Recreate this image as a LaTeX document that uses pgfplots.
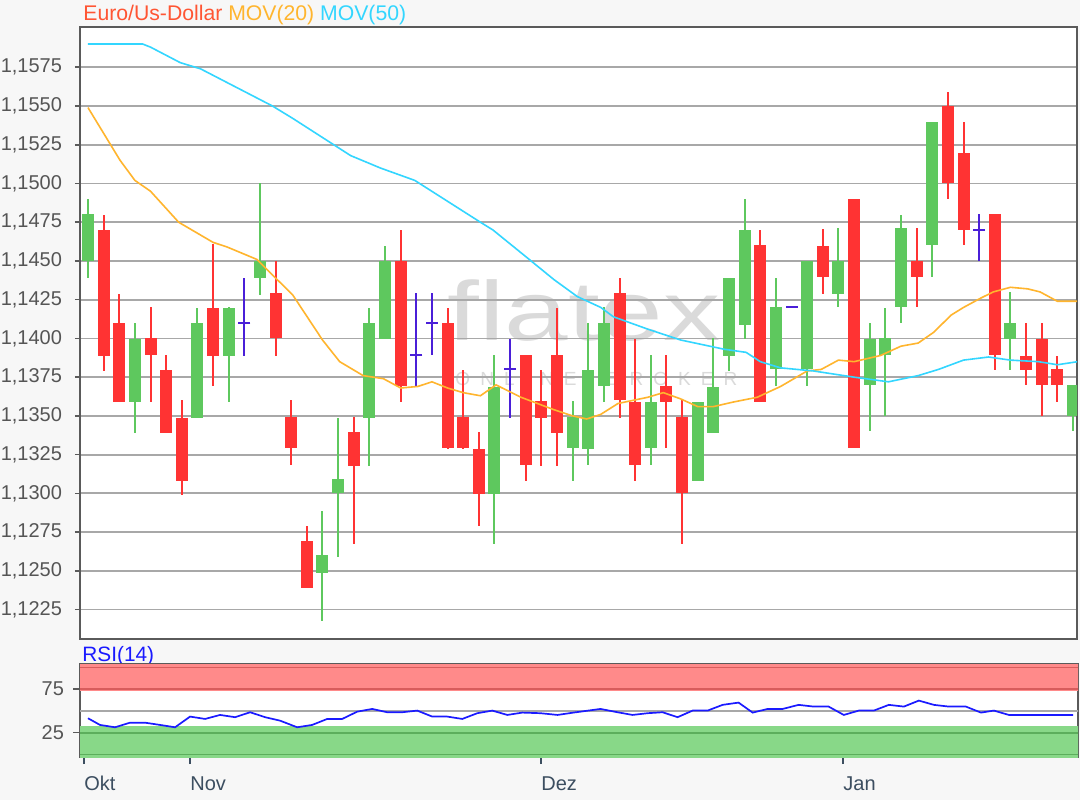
\documentclass[border=0pt]{standalone}
\usepackage{fontspec}
\setmainfont{Liberation Sans}
\usepackage{pgfplots}
\usepackage{pgfplotstable}
\pgfplotsset{compat=1.18}
\definecolor{bg}{HTML}{F7F7F7}
\definecolor{framec}{HTML}{5A5A5A}
\definecolor{gridc}{HTML}{A8A8A8}
\definecolor{cgreen}{HTML}{5EC85E}
\definecolor{cred}{HTML}{FF3333}
\definecolor{cblue}{HTML}{4A1FD8}
\definecolor{corange}{HTML}{FFB52E}
\definecolor{ccyan}{HTML}{33D6FF}
\definecolor{ticklab}{HTML}{555555}
\definecolor{xlab}{HTML}{3C4E60}
\definecolor{ttlred}{HTML}{FF5533}
\definecolor{rsiblue}{HTML}{1A1AFF}
\definecolor{bandred}{HTML}{FF8A8A}
\definecolor{bandredd}{HTML}{D85C5C}
\definecolor{bandgreen}{HTML}{88D888}
\definecolor{bandgreend}{HTML}{5CAE5C}
\definecolor{wm}{HTML}{DADADA}

% green candles: index open high low close
\pgfplotstableread{
i o h l c
0 1.1450 1.1490 1.1439 1.1480
3 1.1359 1.1410 1.1339 1.1400
7 1.1349 1.1420 1.1349 1.1410
9 1.1389 1.1420 1.1359 1.1420
11 1.1439 1.1500 1.1428 1.1450
15 1.1249 1.1289 1.1218 1.1260
16 1.1300 1.1349 1.1259 1.1309
18 1.1349 1.1420 1.1318 1.1410
19 1.1400 1.1460 1.1400 1.1450
26 1.1300 1.1389 1.1267 1.1369
31 1.1329 1.1360 1.1308 1.1349
32 1.1329 1.1410 1.1318 1.1380
33 1.1369 1.1420 1.1359 1.1410
36 1.1329 1.1389 1.1318 1.1359
39 1.1308 1.1359 1.1308 1.1359
40 1.1339 1.1400 1.1339 1.1369
41 1.1389 1.1439 1.1379 1.1439
42 1.1409 1.1490 1.1400 1.1470
44 1.1380 1.1439 1.1369 1.1420
46 1.1380 1.1450 1.1369 1.1450
48 1.1429 1.1471 1.1420 1.1450
50 1.1370 1.1410 1.1340 1.1400
51 1.1389 1.1420 1.1350 1.1400
52 1.1420 1.1480 1.1410 1.1471
54 1.1460 1.1540 1.1440 1.1540
59 1.1400 1.1430 1.1380 1.1410
63 1.1350 1.1370 1.1340 1.1370
}\greendata

% red candles
\pgfplotstableread{
i o h l c
1 1.1470 1.1480 1.1379 1.1389
2 1.1410 1.1429 1.1359 1.1359
4 1.1400 1.1420 1.1359 1.1389
5 1.1380 1.1389 1.1339 1.1339
6 1.1349 1.1360 1.1299 1.1308
8 1.1420 1.1461 1.1369 1.1389
12 1.1429 1.1450 1.1389 1.1400
13 1.1349 1.1360 1.1318 1.1329
14 1.1269 1.1279 1.1239 1.1239
17 1.1340 1.1349 1.1267 1.1318
20 1.1450 1.1470 1.1359 1.1369
23 1.1410 1.1420 1.1329 1.1329
24 1.1349 1.1380 1.1329 1.1329
25 1.1329 1.1340 1.1279 1.1300
28 1.1389 1.1389 1.1308 1.1318
29 1.1360 1.1380 1.1318 1.1349
30 1.1389 1.1420 1.1318 1.1339
34 1.1429 1.1439 1.1349 1.1360
35 1.1359 1.1400 1.1308 1.1318
37 1.1369 1.1389 1.1329 1.1359
38 1.1349 1.1360 1.1267 1.1300
43 1.1460 1.1470 1.1359 1.1359
47 1.1460 1.1471 1.1429 1.1440
49 1.1490 1.1490 1.1329 1.1329
53 1.1450 1.1471 1.1420 1.1440
55 1.1550 1.1559 1.1490 1.1500
56 1.1520 1.1540 1.1460 1.1470
58 1.1480 1.1480 1.1380 1.1389
60 1.1389 1.1410 1.1370 1.1380
61 1.1400 1.1410 1.1350 1.1370
62 1.1380 1.1389 1.1359 1.1370
}\reddata

% unchanged (doji) candles
\pgfplotstableread{
i c h l
10 1.1410 1.1439 1.1389
21 1.1389 1.1429 1.1369
22 1.1410 1.1429 1.1389
27 1.1380 1.1400 1.1349
45 1.1420 1.1420 1.1420
57 1.1470 1.1480 1.1450
}\dojidata

\pgfplotsset{
  wick/.style={draw=none, mark=none,
    error bars/.cd, y dir=both, y explicit, error mark=none, error bar style={draw=#1, line width=1pt}},
  body/.style={draw=none, mark=none,
    error bars/.cd, y dir=both, y explicit, error mark=none, error bar style={draw=#1, line width=6pt}},
}

\begin{document}
\begin{tikzpicture}[x=1pt,y=1pt]
\path[use as bounding box] (0,0) rectangle (540,400);
\fill[bg] (0,0) rectangle (540,400);
\fill[white] (40,80.5) rectangle (538.5,386.5);
\fill[white] (40,21.5) rectangle (539,68);
% watermark
\node[anchor=base west, inner sep=0, text=wm, xscale=1.36, font=\fontsize{42}{42}\selectfont] at (223.5,230) {flatex};
\node[anchor=base west, inner sep=0, text=wm, font=\fontsize{9.5}{10}\selectfont] at (227.5,207.5) {\makebox[141pt][s]{O\hfil N\hfil L\hfil I\hfil N\hfil E\hfil\hfil\hfil B\hfil R\hfil O\hfil K\hfil E\hfil R}};
% titles
\node[anchor=base west, inner sep=0, font=\fontsize{10.6}{12}\selectfont] at (41.5,389.5) {\textcolor{ttlred}{Euro/Us-Dollar} \textcolor{corange}{MOV(20)} \textcolor{ccyan}{MOV(50)}};
\node[anchor=base west, inner sep=0, font=\fontsize{10.4}{12}\selectfont, text=rsiblue] at (41,69.2) {RSI(14)};

\begin{axis}[
  at={(40pt,80.5pt)}, anchor=south west, scale only axis,
  width=498.5pt, height=306pt,
  xmin=-0.51, xmax=63.26, ymin=1.1206, ymax=1.1601,
  axis line style={framec, line width=0.9pt},
  xtick=\empty,
  ytick={1.1225,1.1250,1.1275,1.1300,1.1325,1.1350,1.1375,1.1400,1.1425,1.1450,1.1475,1.1500,1.1525,1.1550,1.1575},
  ytick pos=left, tick align=outside, major tick length=2.5pt,
  tick style={framec, line width=0.8pt},
  ymajorgrids, grid style={gridc, line width=0.9pt},
  /pgf/number format/assume math mode=true,
  yticklabel={\pgfmathprintnumber[fixed,fixed zerofill,precision=4,use comma,1000 sep={}]{\tick}},
  yticklabel style={text=ticklab, font=\fontsize{10}{12}\selectfont, xshift=-3pt},
  scaled y ticks=false,
]
% wicks
\addplot[wick=cgreen]
  table[x=i, y expr={(\thisrow{h}+\thisrow{l})/2}, y error expr={(\thisrow{h}-\thisrow{l})/2}] {\greendata};
\addplot[wick=cred]
  table[x=i, y expr={(\thisrow{h}+\thisrow{l})/2}, y error expr={(\thisrow{h}-\thisrow{l})/2}] {\reddata};
\addplot[wick=cblue]
  table[x=i, y expr={(\thisrow{h}+\thisrow{l})/2}, y error expr={(\thisrow{h}-\thisrow{l})/2}] {\dojidata};
% bodies
\addplot[body=cgreen]
  table[x=i, y expr={(\thisrow{o}+\thisrow{c})/2}, y error expr={abs(\thisrow{c}-\thisrow{o})/2}] {\greendata};
\addplot[body=cred]
  table[x=i, y expr={(\thisrow{o}+\thisrow{c})/2}, y error expr={abs(\thisrow{c}-\thisrow{o})/2}] {\reddata};
\addplot[cblue, only marks, mark=-, mark size=3pt, mark options={line width=1pt}]
  table[x=i, y=c] {\dojidata};
% MOV(20)
\addplot[corange, line width=0.8pt] coordinates {
(0,1.1549) (2.05,1.1515) (3,1.1502) (4,1.1495) (5.8,1.1475) (8,1.1462) (8.9,1.1459) (10.8,1.1451) (11.8,1.1441) (13.1,1.1428) (15,1.1399) (16.1,1.1385) (17.6,1.1376) (18.9,1.1374) (20,1.1368) (21.1,1.1369) (22,1.1372) (23,1.1368) (24,1.1365) (25.1,1.1363) (26.1,1.1370) (27.7,1.1362) (29.8,1.1354) (31,1.1350) (31.9,1.1348) (32.8,1.1351) (33.9,1.1358) (35.8,1.1362) (36.8,1.1365) (37.9,1.1361) (39,1.1356) (40,1.1356) (41.3,1.1359) (42.8,1.1362) (44.3,1.1369) (46,1.1379) (46.9,1.1380) (48,1.1386) (49,1.1385) (50.7,1.1389) (52,1.1395) (53.1,1.1397) (54.1,1.1404) (55.2,1.1415) (56,1.1420) (57.1,1.1426) (57.9,1.1430) (59,1.1433) (60.1,1.1432) (60.9,1.1430) (62,1.1424) (63.3,1.1424)
};
% MOV(50)
\addplot[ccyan, line width=0.8pt] coordinates {
(0,1.1590) (3.5,1.1590) (4,1.1588) (5.9,1.1578) (7.2,1.1574) (11.8,1.1550) (13.1,1.1542) (16.8,1.1518) (18.7,1.1510) (20.9,1.1502) (25.1,1.1475) (25.9,1.1470) (28.1,1.1452) (29.8,1.1438) (31.3,1.1427) (32.8,1.1420) (33.6,1.1414) (35.8,1.1406) (37.9,1.1399) (40.7,1.1393) (42.1,1.1391) (43,1.1385) (44.3,1.1381) (46.4,1.1379) (49,1.1375) (51.2,1.1372) (53.1,1.1376) (54.4,1.1380) (56,1.1386) (57.6,1.1388) (59,1.1386) (60.8,1.1385) (62,1.1383) (63.3,1.1385)
};
\end{axis}

\begin{axis}[
  at={(40pt,21.5pt)}, anchor=south west, scale only axis,
  width=499pt, height=46.5pt,
  xmin=-0.51, xmax=63.32, ymin=-3, ymax=104,
  axis line style={framec, line width=0.9pt},
  xtick={-0.26,6.52,28.97,48.29}, xticklabels={Okt,Nov,Dez,Jan},
  xtick pos=bottom, ytick pos=left,
  ytick={25,75},
  tick align=outside, major tick length=3.5pt,
  x tick style={xlab, line width=0.8pt},
  y tick style={framec, line width=0.8pt},
  /pgf/number format/assume math mode=true,
  yticklabel style={text=ticklab, font=\fontsize{10}{12}\selectfont, xshift=-1pt},
  xticklabel style={text=xlab, font=\fontsize{10}{12}\selectfont, anchor=north west, inner sep=0pt, yshift=-6pt},
]
\addplot[fill=bandred, draw=none] coordinates {(-1,72.5) (64,72.5) (64,110) (-1,110)} -- cycle;
\addplot[fill=bandgreen, draw=none] coordinates {(-1,-10) (64,-10) (64,32.5) (-1,32.5)} -- cycle;
\addplot[bandredd, line width=0.9pt] coordinates {(-1,100) (64,100)};
\addplot[bandredd, line width=0.9pt] coordinates {(-1,75) (64,75)};
\addplot[gridc, line width=0.9pt] coordinates {(-1,50) (64,50)};
\addplot[bandgreend, line width=0.9pt] coordinates {(-1,25) (64,25)};
\addplot[bandgreend, line width=0.9pt] coordinates {(-1,0) (64,0)};
\addplot[rsiblue, line width=0.85pt] coordinates {
(0,41.6) (0.77,33.9) (1.73,31.2) (2.69,36.5) (3.65,36.5) (4.61,33.9) (5.57,31.2) (6.53,43.5) (7.49,40.8) (8.45,45.4) (9.41,42.8) (10.37,48.5) (11.33,42.8) (12.29,38.8) (13.38,31.2) (14.34,33.9) (15.30,40.8) (16.26,40.8) (17.22,49.2) (18.18,52.3) (19.14,48.5) (20.10,48.5) (21.06,50.4) (22.02,43.5) (22.98,43.5) (23.94,40.8) (24.90,47.4) (25.86,50.4) (26.82,45.4) (27.78,48.1) (28.94,47.4) (30.03,45.4) (31.05,48.1) (32.78,52.3) (33.87,48.5) (34.83,45.4) (35.79,47.4) (36.75,48.5) (37.71,42.8) (38.67,50.4) (39.63,50.4) (40.59,57.0) (41.61,59.6) (42.51,48.1) (43.47,52.3) (44.43,52.3) (45.45,57.0) (46.41,55.0) (47.37,55.0) (48.34,45.4) (49.30,50.4) (50.26,50.4) (51.22,57.0) (52.18,55.0) (53.14,61.9) (54.10,57.0) (55.06,55.0) (56.15,55.0) (57.11,48.1) (57.94,50.4) (58.90,45.4) (59.86,45.4) (60.95,45.4) (62.04,45.4) (63,45.4)
};
\end{axis}
\end{tikzpicture}
\end{document}
